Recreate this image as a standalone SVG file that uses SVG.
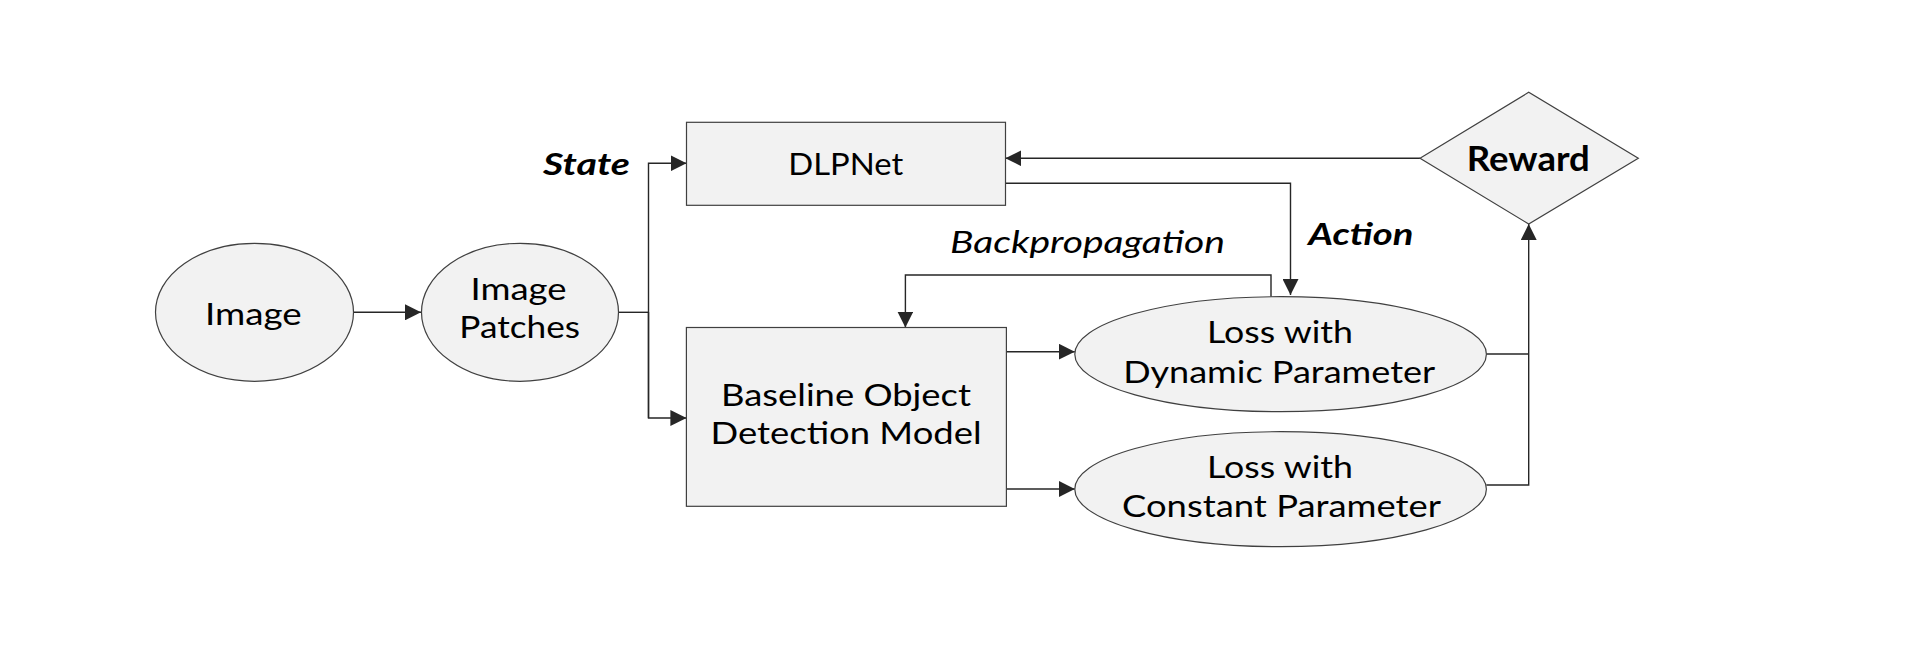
<svg xmlns="http://www.w3.org/2000/svg" width="1912" height="664" viewBox="0 0 1912 664">
<style>
.shape{fill:#f2f2f2;stroke:#404040;stroke-width:1.2}
.conn{fill:none;stroke:#262626;stroke-width:1.4}
.t{font-family:Lato,"Open Sans","Noto Sans",sans-serif;font-size:31.5px;fill:#000;text-anchor:middle}
.bi{font-weight:bold;font-style:italic;font-size:30px}
.it{font-style:italic}
.b{font-weight:bold;font-size:34px}
</style>
<defs>
<marker id="ah" markerUnits="userSpaceOnUse" markerWidth="16" markerHeight="16" viewBox="0 0 15 15" refX="15" refY="7.5" orient="auto">
<path d="M0,0 L15,7.5 L0,15 z" fill="#262626"/>
</marker>
</defs>
<rect width="1912" height="664" fill="#ffffff"/>
<g id="connectors">
<path class="conn" d="M353.5,312.3 H421" marker-end="url(#ah)"/>
<path class="conn" d="M618.5,312.3 H648.5"/>
<path class="conn" d="M648.5,418 V163.3 H686.5" marker-end="url(#ah)"/>
<path class="conn" d="M648.5,312 V418 H686.4" marker-end="url(#ah)"/>
<path class="conn" d="M1420,158.3 H1005.4" marker-end="url(#ah)"/>
<path class="conn" d="M1005.4,183.3 H1290.5 V295" marker-end="url(#ah)"/>
<path class="conn" d="M1271,296.7 V275 H905.4 V327.5" marker-end="url(#ah)"/>
<path class="conn" d="M1006.4,351.7 H1074.8" marker-end="url(#ah)"/>
<path class="conn" d="M1006.4,489 H1074.8" marker-end="url(#ah)"/>
<path class="conn" d="M1486.4,354 H1528.7"/>
<path class="conn" d="M1486.4,485 H1528.7 V224" marker-end="url(#ah)"/>
</g>
<g id="image">
<ellipse class="shape" cx="254.5" cy="312.3" rx="99" ry="69"/>
<text class="t" x="253.3" y="325" textLength="96.7" lengthAdjust="spacingAndGlyphs">Image</text>
</g>
<g id="image-patches">
<ellipse class="shape" cx="520" cy="312.3" rx="98.5" ry="69"/>
<text class="t"><tspan x="518.5" y="300" textLength="96" lengthAdjust="spacingAndGlyphs">Image</tspan><tspan x="519.7" y="338.3" textLength="120.7" lengthAdjust="spacingAndGlyphs">Patches</tspan></text>
</g>
<g id="state-label">
<text class="t bi" x="586.5" y="175" textLength="87" lengthAdjust="spacingAndGlyphs">State</text>
</g>
<g id="dlpnet">
<rect class="shape" x="686.5" y="122.3" width="319" height="83"/>
<text class="t" x="845.8" y="175" textLength="115" lengthAdjust="spacingAndGlyphs">DLPNet</text>
</g>
<g id="baseline-model">
<rect class="shape" x="686.4" y="327.5" width="320" height="178.8"/>
<text class="t"><tspan x="846" y="405.5" textLength="250" lengthAdjust="spacingAndGlyphs">Baseline Object</tspan><tspan x="846" y="444" textLength="271" lengthAdjust="spacingAndGlyphs">Detection Model</tspan></text>
</g>
<g id="backprop-label">
<text class="t it" x="1087.5" y="253.3" textLength="275" lengthAdjust="spacingAndGlyphs">Backpropagation</text>
</g>
<g id="action-label">
<text class="t bi" x="1360.8" y="245" textLength="105" lengthAdjust="spacingAndGlyphs">Action</text>
</g>
<g id="loss-dynamic">
<ellipse class="shape" cx="1280.6" cy="354.2" rx="205.8" ry="57.5"/>
<text class="t"><tspan x="1280" y="343.3" textLength="146" lengthAdjust="spacingAndGlyphs">Loss with</tspan><tspan x="1279.2" y="382.5" textLength="312" lengthAdjust="spacingAndGlyphs">Dynamic Parameter</tspan></text>
</g>
<g id="loss-constant">
<ellipse class="shape" cx="1280.6" cy="489.2" rx="205.8" ry="57.5"/>
<text class="t"><tspan x="1280" y="477.5" textLength="146" lengthAdjust="spacingAndGlyphs">Loss with</tspan><tspan x="1281.5" y="516.5" textLength="319" lengthAdjust="spacingAndGlyphs">Constant Parameter</tspan></text>
</g>
<g id="reward">
<polygon class="shape" points="1420,158.3 1528.7,92.3 1638.3,158.3 1528.7,224"/>
<text class="t b" x="1528.3" y="170.7" textLength="123" lengthAdjust="spacingAndGlyphs">Reward</text>
</g>
</svg>
